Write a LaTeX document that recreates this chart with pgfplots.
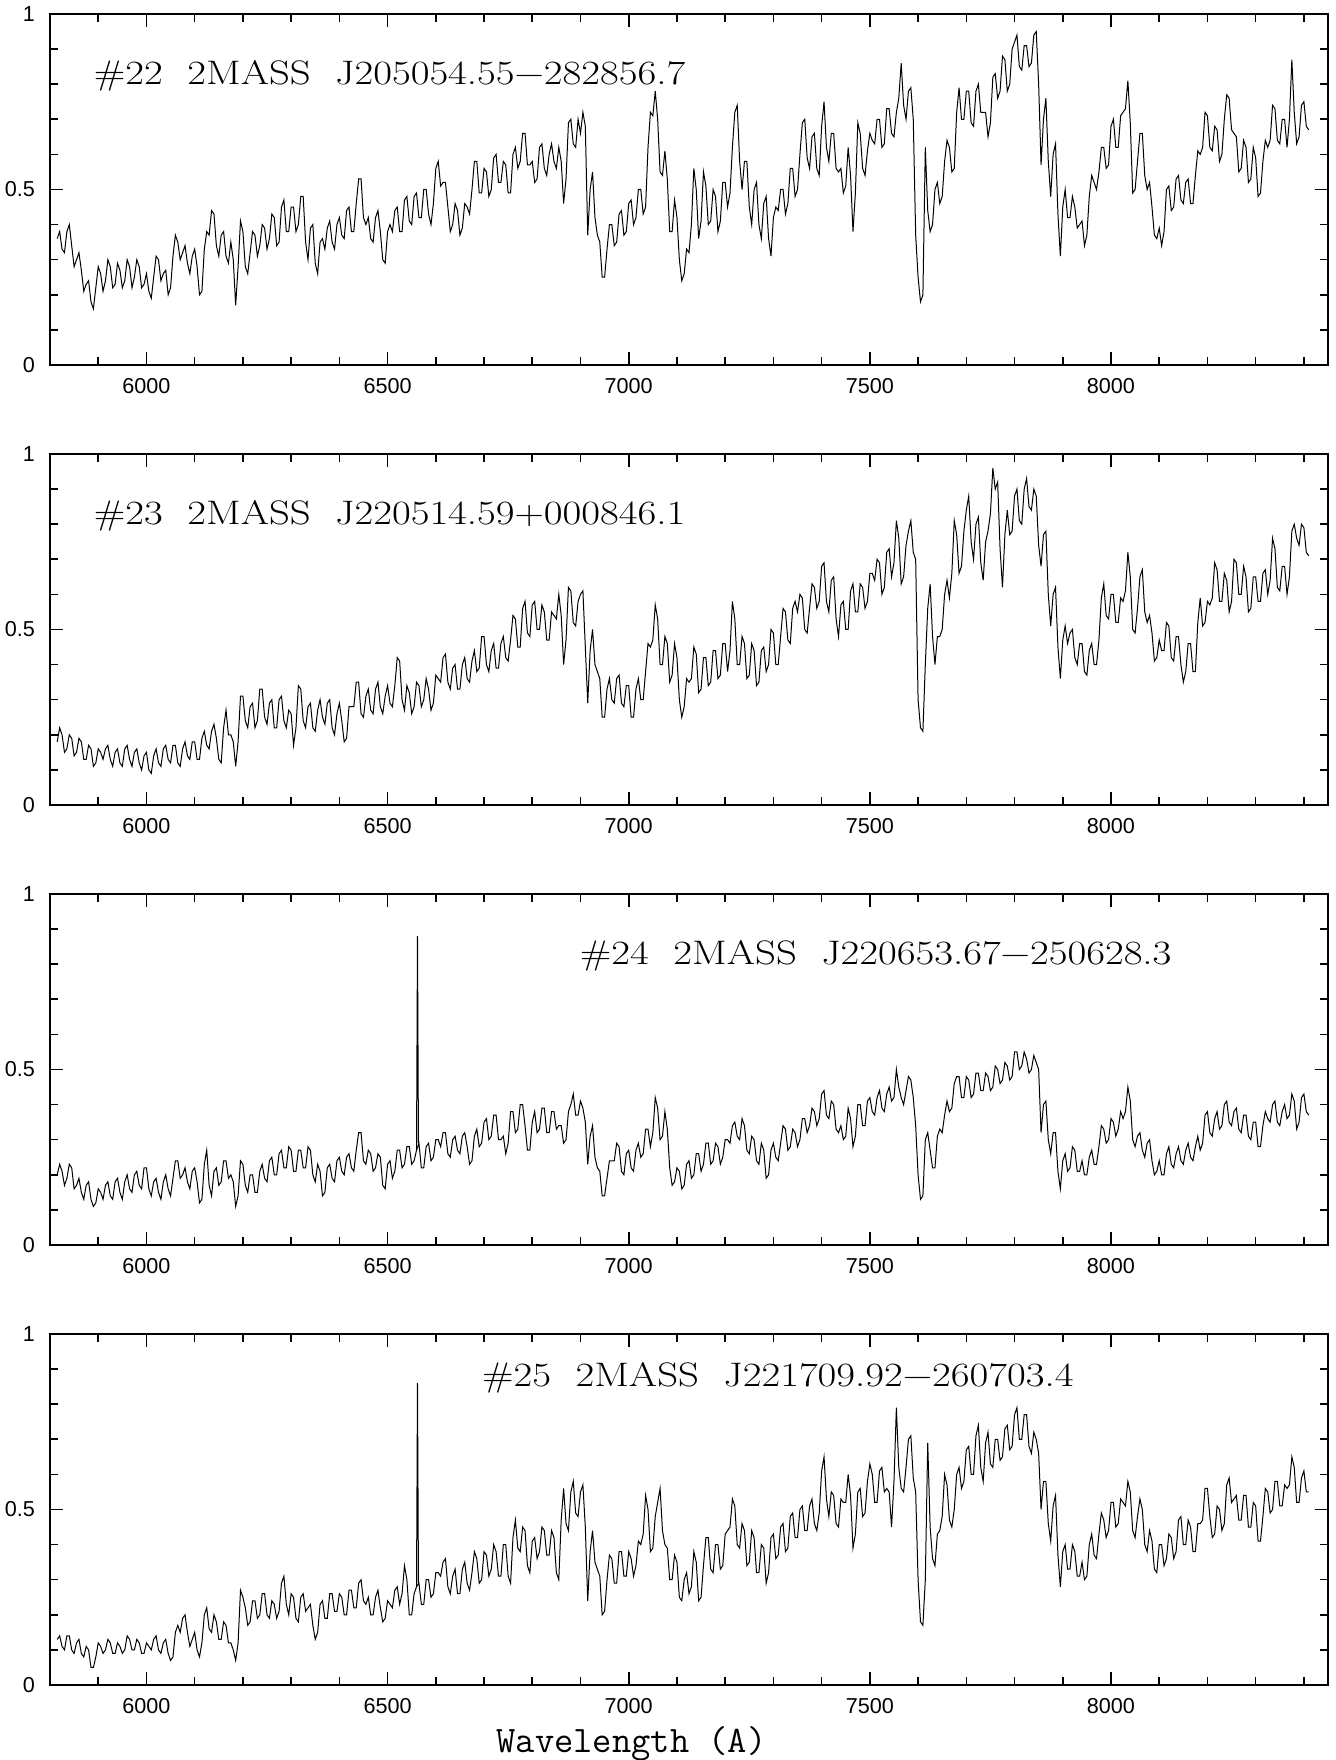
\documentclass[border=0pt]{standalone}
\usepackage{fontspec}
\newfontfamily\tickfont{Liberation Sans}
\usepackage{graphicx}
\usepackage{pgfplots}
\usepackage{pgfplotstable}
\pgfplotsset{compat=1.18}

% spectra sampled every 5 A from 5815 A to 8410 A
\pgfplotstableread[row sep=\\,header=false]{
.36\\.38\\.33\\.32\\.38\\.40\\.34\\.28\\.30\\.32\\.27\\.21\\.23\\.24\\.18\\.16\\.22\\.28\\.26\\.21\\
.24\\.30\\.28\\.22\\.23\\.29\\.27\\.22\\.24\\.30\\.28\\.22\\.25\\.30\\.28\\.22\\.23\\.26\\.21\\.19\\
.25\\.31\\.30\\.24\\.26\\.27\\.20\\.22\\.31\\.37\\.35\\.30\\.32\\.34\\.29\\.26\\.31\\.33\\.28\\.20\\
.21\\.33\\.38\\.37\\.44\\.43\\.34\\.31\\.37\\.38\\.31\\.29\\.35\\.30\\.17\\.28\\.41\\.38\\.28\\.26\\
.32\\.38\\.37\\.31\\.34\\.40\\.39\\.33\\.36\\.43\\.42\\.34\\.35\\.45\\.47\\.38\\.38\\.45\\.45\\.38\\
.40\\.48\\.48\\.35\\.30\\.39\\.40\\.29\\.26\\.35\\.36\\.33\\.39\\.41\\.35\\.33\\.40\\.42\\.37\\.36\\
.44\\.45\\.38\\.38\\.46\\.53\\.53\\.42\\.40\\.42\\.36\\.35\\.42\\.44\\.38\\.30\\.29\\.38\\.40\\.38\\
.44\\.45\\.38\\.38\\.47\\.48\\.41\\.40\\.48\\.49\\.42\\.42\\.50\\.50\\.43\\.40\\.46\\.56\\.58\\.51\\
.52\\.52\\.45\\.38\\.40\\.46\\.44\\.37\\.39\\.46\\.45\\.43\\.50\\.58\\.58\\.49\\.49\\.56\\.55\\.48\\
.50\\.59\\.60\\.52\\.52\\.58\\.57\\.49\\.49\\.60\\.62\\.56\\.58\\.66\\.66\\.57\\.57\\.58\\.52\\.53\\
.62\\.63\\.56\\.54\\.60\\.63\\.58\\.56\\.62\\.58\\.46\\.53\\.69\\.70\\.63\\.62\\.70\\.66\\.72\\.68\\
.37\\.50\\.55\\.42\\.37\\.35\\.25\\.25\\.33\\.40\\.40\\.34\\.35\\.43\\.44\\.37\\.38\\.46\\.47\\.40\\
.42\\.50\\.50\\.43\\.45\\.62\\.72\\.71\\.78\\.70\\.55\\.54\\.61\\.53\\.38\\.38\\.47\\.42\\.30\\.24\\
.26\\.33\\.32\\.40\\.56\\.50\\.36\\.41\\.55\\.51\\.40\\.41\\.50\\.48\\.38\\.41\\.52\\.52\\.45\\.49\\
.62\\.72\\.74\\.58\\.50\\.58\\.58\\.45\\.40\\.50\\.52\\.40\\.36\\.46\\.48\\.36\\.31\\.42\\.45\\.44\\
.50\\.50\\.43\\.46\\.56\\.56\\.48\\.50\\.60\\.69\\.70\\.59\\.56\\.65\\.66\\.56\\.54\\.68\\.75\\.62\\
.58\\.66\\.66\\.56\\.55\\.56\\.49\\.51\\.62\\.54\\.38\\.49\\.69\\.66\\.56\\.54\\.61\\.66\\.64\\.63\\
.70\\.70\\.62\\.63\\.73\\.73\\.66\\.65\\.72\\.76\\.86\\.74\\.70\\.78\\.79\\.70\\.37\\.25\\.18\\.20\\
.62\\.44\\.38\\.40\\.50\\.52\\.46\\.48\\.58\\.64\\.62\\.55\\.56\\.72\\.79\\.70\\.70\\.78\\.78\\.69\\
.68\\.78\\.80\\.72\\.72\\.72\\.65\\.69\\.82\\.83\\.76\\.78\\.88\\.87\\.78\\.80\\.90\\.92\\.94\\.85\\
.84\\.91\\.91\\.85\\.86\\.94\\.95\\.80\\.57\\.70\\.76\\.58\\.48\\.60\\.63\\.43\\.31\\.45\\.50\\.42\\
.42\\.48\\.45\\.39\\.40\\.41\\.34\\.37\\.48\\.54\\.52\\.50\\.55\\.62\\.62\\.56\\.57\\.68\\.70\\.62\\
.62\\.71\\.72\\.73\\.81\\.69\\.49\\.50\\.58\\.66\\.66\\.54\\.50\\.52\\.45\\.37\\.36\\.39\\.34\\.38\\
.50\\.51\\.44\\.45\\.53\\.54\\.47\\.46\\.52\\.53\\.46\\.46\\.54\\.61\\.60\\.62\\.72\\.71\\.62\\.61\\
.68\\.67\\.58\\.60\\.70\\.77\\.76\\.67\\.66\\.65\\.55\\.56\\.64\\.62\\.52\\.53\\.62\\.59\\.48\\.49\\
.58\\.64\\.62\\.64\\.74\\.73\\.64\\.63\\.70\\.70\\.62\\.70\\.87\\.72\\.63\\.65\\.74\\.75\\.68\\.67\\
}\specA

\pgfplotstableread[row sep=\\,header=false]{
.18\\.22\\.20\\.15\\.16\\.20\\.19\\.14\\.15\\.19\\.18\\.13\\.13\\.17\\.16\\.11\\.12\\.16\\.15\\.13\\
.16\\.17\\.13\\.11\\.15\\.16\\.12\\.11\\.16\\.17\\.13\\.11\\.15\\.16\\.12\\.10\\.14\\.15\\.10\\.09\\
.14\\.16\\.12\\.11\\.16\\.17\\.13\\.12\\.17\\.17\\.12\\.11\\.16\\.18\\.14\\.13\\.18\\.18\\.13\\.13\\
.19\\.21\\.17\\.16\\.21\\.23\\.19\\.13\\.12\\.22\\.27\\.20\\.20\\.18\\.11\\.18\\.31\\.31\\.24\\.22\\
.28\\.29\\.22\\.24\\.33\\.33\\.25\\.23\\.29\\.30\\.22\\.22\\.30\\.31\\.24\\.22\\.27\\.26\\.17\\.22\\
.34\\.33\\.24\\.22\\.28\\.29\\.22\\.21\\.27\\.30\\.25\\.23\\.29\\.30\\.22\\.20\\.26\\.29\\.24\\.18\\
.19\\.28\\.28\\.28\\.35\\.35\\.26\\.25\\.31\\.33\\.27\\.26\\.33\\.35\\.28\\.26\\.31\\.34\\.29\\.28\\
.34\\.42\\.41\\.30\\.27\\.34\\.32\\.26\\.28\\.35\\.34\\.28\\.30\\.36\\.33\\.27\\.29\\.37\\.36\\.35\\
.42\\.43\\.35\\.33\\.39\\.40\\.33\\.33\\.40\\.42\\.36\\.35\\.41\\.44\\.38\\.39\\.48\\.48\\.40\\.38\\
.44\\.46\\.39\\.39\\.46\\.48\\.42\\.41\\.47\\.54\\.53\\.45\\.45\\.56\\.58\\.49\\.48\\.57\\.58\\.50\\
.50\\.57\\.55\\.47\\.47\\.55\\.54\\.53\\.60\\.54\\.40\\.47\\.62\\.61\\.52\\.51\\.58\\.60\\.61\\.45\\
.29\\.44\\.50\\.40\\.38\\.36\\.25\\.25\\.33\\.36\\.30\\.29\\.36\\.37\\.29\\.28\\.34\\.34\\.25\\.25\\
.33\\.36\\.30\\.30\\.38\\.46\\.45\\.47\\.57\\.53\\.40\\.40\\.48\\.46\\.35\\.37\\.46\\.42\\.30\\.25\\
.28\\.36\\.35\\.36\\.45\\.43\\.32\\.33\\.42\\.42\\.34\\.35\\.44\\.44\\.36\\.37\\.46\\.46\\.38\\.44\\
.58\\.53\\.40\\.40\\.48\\.46\\.36\\.37\\.46\\.44\\.34\\.35\\.44\\.45\\.38\\.40\\.50\\.49\\.40\\.40\\
.48\\.56\\.55\\.47\\.46\\.56\\.58\\.55\\.60\\.59\\.50\\.49\\.56\\.63\\.62\\.56\\.58\\.68\\.69\\.58\\
.55\\.64\\.65\\.53\\.48\\.57\\.58\\.50\\.50\\.61\\.63\\.55\\.55\\.63\\.62\\.56\\.58\\.66\\.66\\.64\\
.70\\.69\\.60\\.62\\.72\\.73\\.65\\.69\\.81\\.76\\.63\\.65\\.74\\.78\\.81\\.72\\.70\\.30\\.22\\.21\\
.40\\.56\\.63\\.48\\.40\\.48\\.48\\.50\\.60\\.64\\.59\\.66\\.81\\.77\\.66\\.68\\.78\\.84\\.88\\.75\\
.70\\.80\\.82\\.69\\.64\\.75\\.78\\.83\\.96\\.90\\.92\\.73\\.62\\.77\\.84\\.77\\.78\\.88\\.90\\.81\\
.80\\.90\\.93\\.85\\.84\\.90\\.88\\.74\\.68\\.77\\.78\\.60\\.51\\.60\\.62\\.45\\.36\\.47\\.51\\.46\\
.49\\.50\\.42\\.40\\.46\\.46\\.38\\.37\\.44\\.46\\.40\\.40\\.47\\.59\\.63\\.54\\.53\\.60\\.60\\.52\\
.52\\.59\\.58\\.61\\.72\\.65\\.50\\.49\\.56\\.65\\.67\\.55\\.52\\.54\\.49\\.41\\.42\\.47\\.44\\.44\\
.52\\.51\\.42\\.41\\.48\\.48\\.40\\.35\\.38\\.46\\.46\\.38\\.38\\.52\\.59\\.51\\.52\\.58\\.57\\.59\\
.69\\.67\\.58\\.58\\.66\\.64\\.55\\.58\\.70\\.69\\.60\\.60\\.68\\.65\\.55\\.56\\.65\\.65\\.58\\.58\\
.66\\.67\\.60\\.64\\.76\\.73\\.62\\.61\\.68\\.68\\.60\\.65\\.78\\.80\\.76\\.74\\.80\\.79\\.72\\.71\\
}\specB

\pgfplotstableread[row sep=\\,header=false]{
.20\\.23\\.21\\.17\\.19\\.23\\.22\\.16\\.17\\.19\\.15\\.13\\.17\\.18\\.13\\.11\\.12\\.16\\.15\\.13\\
.17\\.18\\.14\\.13\\.18\\.19\\.15\\.13\\.18\\.20\\.16\\.15\\.20\\.21\\.17\\.16\\.22\\.22\\.16\\.14\\
.18\\.19\\.15\\.13\\.18\\.20\\.16\\.14\\.19\\.24\\.24\\.19\\.20\\.22\\.18\\.16\\.21\\.22\\.18\\.12\\
.13\\.23\\.27\\.17\\.14\\.21\\.22\\.17\\.18\\.24\\.24\\.19\\.20\\.18\\.11\\.14\\.24\\.23\\.17\\.15\\
.20\\.20\\.15\\.15\\.21\\.23\\.19\\.18\\.24\\.25\\.20\\.20\\.26\\.27\\.22\\.22\\.28\\.27\\.21\\.21\\
.27\\.27\\.22\\.22\\.28\\.27\\.20\\.18\\.23\\.21\\.14\\.15\\.22\\.23\\.19\\.18\\.24\\.25\\.21\\.20\\
.25\\.26\\.22\\.21\\.27\\.32\\.32\\.24\\.23\\.27\\.26\\.21\\.22\\.26\\.25\\.17\\.16\\.23\\.24\\.19\\
.21\\.27\\.27\\.22\\.23\\.28\\.28\\.23\\.24\\.27\\.29\\.22\\.22\\.28\\.29\\.24\\.25\\.30\\.30\\.28\\
.32\\.32\\.26\\.25\\.30\\.31\\.27\\.26\\.31\\.32\\.28\\.23\\.24\\.31\\.33\\.28\\.29\\.35\\.36\\.30\\
.31\\.37\\.37\\.30\\.30\\.31\\.26\\.29\\.38\\.38\\.32\\.33\\.40\\.40\\.34\\.27\\.27\\.35\\.38\\.32\\
.33\\.39\\.39\\.32\\.32\\.38\\.38\\.33\\.34\\.34\\.29\\.30\\.38\\.40\\.43\\.37\\.37\\.41\\.39\\.35\\
.23\\.31\\.34\\.25\\.22\\.21\\.14\\.14\\.19\\.24\\.24\\.24\\.29\\.28\\.21\\.20\\.26\\.27\\.22\\.21\\
.27\\.29\\.25\\.26\\.33\\.33\\.28\\.32\\.42\\.39\\.30\\.31\\.38\\.33\\.22\\.17\\.18\\.22\\.21\\.16\\
.17\\.23\\.24\\.19\\.20\\.26\\.26\\.21\\.23\\.29\\.29\\.23\\.24\\.29\\.28\\.23\\.25\\.30\\.30\\.29\\
.34\\.35\\.31\\.30\\.36\\.34\\.27\\.26\\.31\\.30\\.24\\.23\\.29\\.27\\.19\\.20\\.27\\.29\\.25\\.24\\
.29\\.34\\.33\\.27\\.28\\.33\\.32\\.28\\.30\\.36\\.36\\.32\\.34\\.39\\.38\\.34\\.36\\.43\\.44\\.37\\
.36\\.41\\.40\\.33\\.32\\.34\\.30\\.31\\.39\\.36\\.28\\.31\\.40\\.40\\.34\\.34\\.41\\.42\\.38\\.37\\
.42\\.44\\.39\\.38\\.43\\.45\\.41\\.42\\.50\\.45\\.42\\.40\\.44\\.48\\.47\\.42\\.34\\.20\\.13\\.14\\
.30\\.32\\.27\\.22\\.22\\.31\\.33\\.32\\.37\\.41\\.38\\.39\\.46\\.48\\.48\\.42\\.42\\.48\\.47\\.42\\
.43\\.49\\.49\\.44\\.44\\.49\\.48\\.44\\.45\\.51\\.50\\.46\\.47\\.52\\.51\\.47\\.48\\.55\\.55\\.50\\
.51\\.55\\.53\\.49\\.50\\.54\\.52\\.50\\.32\\.40\\.41\\.30\\.26\\.32\\.32\\.21\\.16\\.24\\.26\\.21\\
.22\\.28\\.27\\.21\\.21\\.24\\.20\\.20\\.25\\.27\\.23\\.23\\.28\\.34\\.33\\.29\\.30\\.36\\.35\\.31\\
.33\\.38\\.36\\.38\\.45\\.41\\.30\\.28\\.31\\.32\\.27\\.25\\.29\\.30\\.24\\.20\\.21\\.24\\.20\\.20\\
.26\\.28\\.23\\.22\\.26\\.28\\.24\\.23\\.27\\.29\\.25\\.24\\.28\\.31\\.27\\.29\\.37\\.38\\.32\\.31\\
.36\\.38\\.33\\.34\\.40\\.41\\.35\\.34\\.38\\.39\\.33\\.32\\.37\\.37\\.31\\.30\\.35\\.35\\.28\\.28\\
.34\\.38\\.36\\.35\\.40\\.41\\.35\\.34\\.38\\.40\\.36\\.37\\.43\\.41\\.33\\.35\\.42\\.43\\.38\\.37\\
}\specC

\pgfplotstableread[row sep=\\,header=false]{
.13\\.14\\.11\\.10\\.14\\.14\\.10\\.09\\.12\\.13\\.09\\.08\\.11\\.10\\.05\\.05\\.08\\.12\\.11\\.09\\
.10\\.13\\.12\\.09\\.09\\.12\\.11\\.09\\.10\\.14\\.13\\.10\\.10\\.13\\.12\\.09\\.09\\.12\\.11\\.10\\
.13\\.14\\.10\\.09\\.12\\.13\\.09\\.07\\.08\\.15\\.17\\.15\\.19\\.20\\.15\\.11\\.13\\.15\\.10\\.08\\
.12\\.20\\.22\\.16\\.15\\.20\\.18\\.13\\.13\\.18\\.17\\.12\\.12\\.10\\.07\\.12\\.27\\.25\\.22\\.17\\
.18\\.24\\.24\\.19\\.20\\.26\\.26\\.20\\.19\\.24\\.23\\.19\\.21\\.29\\.31\\.23\\.20\\.26\\.25\\.19\\
.18\\.25\\.26\\.21\\.22\\.23\\.17\\.13\\.15\\.23\\.24\\.19\\.19\\.26\\.26\\.21\\.21\\.26\\.25\\.20\\
.20\\.27\\.27\\.22\\.22\\.29\\.30\\.24\\.23\\.25\\.20\\.20\\.25\\.27\\.22\\.18\\.19\\.24\\.23\\.22\\
.27\\.28\\.23\\.26\\.34\\.30\\.20\\.20\\.26\\.28\\.29\\.23\\.23\\.30\\.30\\.25\\.26\\.32\\.32\\.31\\
.35\\.36\\.28\\.26\\.31\\.33\\.26\\.26\\.33\\.35\\.29\\.27\\.32\\.38\\.36\\.29\\.30\\.38\\.37\\.31\\
.33\\.40\\.38\\.31\\.31\\.40\\.40\\.31\\.29\\.42\\.47\\.39\\.38\\.45\\.44\\.34\\.32\\.41\\.42\\.36\\
.38\\.45\\.44\\.37\\.37\\.44\\.42\\.32\\.30\\.47\\.56\\.46\\.44\\.55\\.58\\.49\\.48\\.55\\.57\\.45\\
.24\\.38\\.44\\.35\\.33\\.31\\.20\\.21\\.30\\.37\\.36\\.29\\.29\\.38\\.38\\.31\\.31\\.38\\.36\\.31\\
.34\\.41\\.40\\.43\\.54\\.50\\.38\\.39\\.48\\.52\\.56\\.44\\.40\\.39\\.30\\.30\\.37\\.35\\.25\\.24\\
.30\\.32\\.26\\.28\\.38\\.35\\.24\\.25\\.34\\.42\\.42\\.33\\.32\\.40\\.40\\.33\\.34\\.43\\.44\\.45\\
.53\\.51\\.40\\.39\\.46\\.44\\.34\\.35\\.44\\.42\\.32\\.32\\.40\\.39\\.29\\.32\\.42\\.43\\.36\\.37\\
.45\\.46\\.38\\.39\\.48\\.49\\.42\\.42\\.50\\.51\\.44\\.44\\.51\\.53\\.46\\.44\\.49\\.61\\.65\\.53\\
.48\\.55\\.54\\.46\\.45\\.53\\.52\\.52\\.60\\.54\\.39\\.43\\.55\\.56\\.48\\.49\\.58\\.63\\.60\\.52\\
.52\\.61\\.62\\.55\\.56\\.55\\.45\\.58\\.79\\.62\\.56\\.55\\.62\\.70\\.71\\.59\\.55\\.30\\.18\\.17\\
.30\\.69\\.45\\.36\\.34\\.43\\.44\\.48\\.60\\.57\\.47\\.45\\.50\\.60\\.62\\.56\\.58\\.67\\.68\\.60\\
.60\\.71\\.74\\.62\\.58\\.69\\.72\\.63\\.62\\.70\\.70\\.64\\.65\\.73\\.74\\.67\\.68\\.77\\.79\\.70\\
.70\\.77\\.77\\.68\\.66\\.72\\.70\\.66\\.50\\.58\\.58\\.46\\.41\\.51\\.54\\.37\\.28\\.38\\.40\\.33\\
.33\\.40\\.38\\.31\\.31\\.35\\.30\\.31\\.40\\.43\\.37\\.36\\.43\\.49\\.47\\.42\\.44\\.52\\.52\\.45\\
.46\\.53\\.52\\.51\\.58\\.55\\.44\\.42\\.48\\.53\\.50\\.40\\.38\\.44\\.41\\.33\\.32\\.40\\.40\\.34\\
.36\\.43\\.42\\.36\\.38\\.47\\.48\\.40\\.40\\.47\\.45\\.38\\.38\\.46\\.46\\.47\\.56\\.56\\.48\\.42\\
.43\\.51\\.50\\.44\\.46\\.57\\.59\\.52\\.53\\.54\\.47\\.47\\.54\\.54\\.45\\.45\\.52\\.51\\.41\\.41\\
.48\\.56\\.55\\.49\\.50\\.58\\.58\\.51\\.51\\.57\\.56\\.57\\.65\\.62\\.52\\.52\\.59\\.61\\.55\\.55\\
}\specD

\pgfplotsset{
  spec/.style={
    scale only axis, width=639pt, height=175.5pt, anchor=south west,
    xmin=5800, xmax=8450, ymin=0, ymax=1,
    xtick={6000,6500,7000,7500,8000}, ytick={0,0.5,1},
    minor xtick={5900,6000,...,8400}, minor ytick={0.1,0.2,...,0.9},
    tick align=inside, major tick length=6.5pt, minor tick length=4pt,
    axis line style={line width=1pt},
    every tick/.style={black, line width=0.8pt},
    ticklabel style={font=\tickfont\fontsize{10.8}{12}\selectfont},
    xticklabel style={yshift=-3pt}, yticklabel style={xshift=-4pt},
    /pgf/number format/assume math mode=true,
    /pgf/number format/1000 sep={},
  },
  sp/.style={black, line width=0.5pt},
}
\newcommand{\ttl}[1]{\fontsize{17}{20}\selectfont\scalebox{1.2}[1]{#1}}

\begin{document}
\begin{tikzpicture}
\path[use as bounding box] (0,0) rectangle (668pt,880pt);

\begin{axis}[spec, at={(25pt,697.5pt)}]
\addplot[sp] table[x expr=5815+5*\coordindex, y index=0]{\specA};
\node[anchor=base west, inner sep=0pt] at (axis cs:5890,0.80) {\ttl{\#22\ \ 2MASS\ \ J205054.55−282856.7}};
\end{axis}

\begin{axis}[spec, at={(25pt,477.5pt)}]
\addplot[sp] table[x expr=5815+5*\coordindex, y index=0]{\specB};
\node[anchor=base west, inner sep=0pt] at (axis cs:5890,0.80) {\ttl{\#23\ \ 2MASS\ \ J220514.59+000846.1}};
\end{axis}

\begin{axis}[spec, at={(25pt,257.5pt)}]
\addplot[sp] table[x expr=5815+5*\coordindex, y index=0]{\specC};
\addplot[sp] coordinates {(6560,.27)(6562,.88)(6564,.29)};
\node[anchor=base west, inner sep=0pt] at (axis cs:6898,0.80) {\ttl{\#24\ \ 2MASS\ \ J220653.67−250628.3}};
\end{axis}

\begin{axis}[spec, at={(25pt,37.5pt)}]
\addplot[sp] table[x expr=5815+5*\coordindex, y index=0]{\specD};
\addplot[sp] coordinates {(6560,.28)(6562,.86)(6564,.29)};
\node[anchor=base west, inner sep=0pt] at (axis cs:6695,0.85) {\ttl{\#25\ \ 2MASS\ \ J221709.92−260703.4}};
\end{axis}

\node[anchor=base, font=\ttfamily\fontsize{18.7}{20}\selectfont] at (315.75pt,4pt) {Wavelength (A)};
\end{tikzpicture}
\end{document}
